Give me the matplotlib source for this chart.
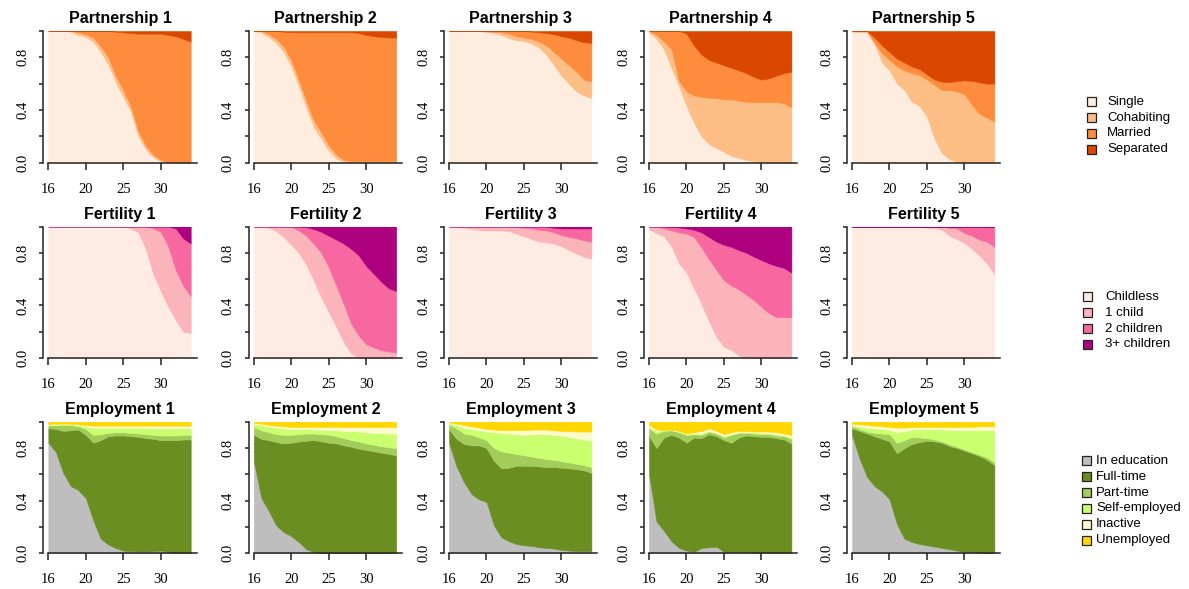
import numpy as np
import matplotlib
matplotlib.use("Agg")
import matplotlib.pyplot as plt
from matplotlib.patches import Rectangle

# sequence position (years since start), tick labels
pos = np.arange(20)
tick_pos = [0, 5, 10, 15]
tick_lab = ["16", "20", "25", "30"]

# cumulative upper bounds of each state (bottom state first)
# Partnership: Single, Cohabiting, Married (Separated fills up to 1)
p1_single = [1, 1, 1, .995, .97, .955, .92, .84, .75, .61, .50, .39, .20, .10, .04, .01, 0, 0, 0, 0]
p1_cohab = [1, 1, 1, 1, .99, .975, .95, .88, .80, .66, .55, .43, .24, .13, .06, .02, .005, 0, 0, 0]
p1_married = [1, 1, 1, 1, 1, 1, 1, 1, 1, .995, .99, .985, .98, .98, .98, .98, .97, .96, .94, .92]

p2_single = [1, .99, .955, .91, .84, .73, .58, .42, .27, .18, .09, .03, .005, 0, 0, 0, 0, 0, 0, 0]
p2_cohab = [1, 1, .975, .94, .88, .78, .63, .47, .32, .23, .13, .06, .02, .01, .01, .01, .01, .01, .01, .01]
p2_married = [1, 1, 1, 1, .995, .99, .99, .99, .99, .99, .99, .99, .99, .99, .985, .97, .96, .955, .95, .95]

p3_single = [1, 1, 1, 1, 1, .99, .985, .97, .945, .93, .925, .905, .875, .82, .74, .66, .60, .54, .51, .49]
p3_cohab = [1, 1, 1, 1, 1, 1, .995, .99, .98, .96, .95, .94, .92, .89, .84, .79, .74, .69, .63, .615]
p3_married = [1, 1, 1, 1, 1, 1, 1, 1, 1, 1, 1, .995, .99, .985, .975, .96, .95, .93, .915, .91]

p4_single = [.99, .94, .86, .72, .58, .43, .30, .20, .14, .11, .08, .05, .035, .02, .01, 0, 0, 0, 0, 0]
p4_cohab = [1, .97, .92, .86, .62, .54, .51, .50, .49, .49, .48, .48, .47, .46, .46, .46, .46, .46, .45, .42]
p4_married = [1, 1, 1, 1, 1, .98, .89, .82, .78, .76, .74, .72, .70, .68, .65, .63, .64, .66, .68, .69]

p5_single = [.995, .99, .99, .90, .76, .70, .60, .55, .46, .43, .35, .18, .07, .025, .005, 0, 0, 0, 0, 0]
p5_cohab = [1, 1, 1, .91, .83, .78, .73, .70, .68, .665, .63, .59, .55, .55, .54, .52, .44, .37, .34, .31]
p5_married = [1, 1, 1, .95, .89, .84, .79, .76, .73, .71, .67, .63, .615, .61, .62, .625, .62, .61, .60, .60]

# Fertility: Childless, 1 child, 2 children (3+ fills up to 1)
f1_none = [1, 1, 1, 1, 1, 1, 1, 1, 1, 1, 1, .985, .955, .83, .64, .51, .39, .29, .20, .19]
f1_one = [1, 1, 1, 1, 1, 1, 1, 1, 1, 1, 1, 1, 1, 1, .985, .96, .85, .67, .55, .47]
f1_two = [1, 1, 1, 1, 1, 1, 1, 1, 1, 1, 1, 1, 1, 1, 1, 1, 1, .985, .91, .87]

f2_none = [1, 1, .99, .965, .92, .86, .80, .71, .59, .46, .35, .24, .12, .035, 0, 0, 0, 0, 0, 0]
f2_one = [1, 1, 1, 1, 1, .995, .97, .93, .87, .80, .69, .55, .41, .26, .17, .105, .08, .06, .05, .04]
f2_two = [1, 1, 1, 1, 1, 1, 1, .995, .98, .96, .93, .90, .87, .83, .78, .70, .64, .58, .53, .51]

f3_none = [1, .995, .99, .98, .975, .97, .97, .97, .965, .945, .925, .905, .885, .88, .87, .85, .82, .795, .77, .755]
f3_one = [1, 1, 1, 1, 1, 1, 1, 1, 1, .995, .99, .985, .975, .97, .955, .935, .92, .91, .895, .885]
f3_two = [1, 1, 1, 1, 1, 1, 1, 1, 1, 1, 1, 1, 1, 1, .99, .985, .985, .985, .985, .985]

f4_none = [.98, .95, .925, .85, .72, .65, .53, .41, .28, .16, .085, .06, .02, 0, 0, 0, 0, 0, 0, 0]
f4_one = [1, 1, .985, .97, .955, .945, .92, .84, .75, .67, .59, .55, .52, .48, .44, .39, .34, .31, .31, .31]
f4_two = [1, 1, 1, .997, .993, .985, .975, .955, .92, .885, .86, .845, .82, .80, .77, .745, .72, .70, .685, .65]

f5_none = [1, 1, 1, 1, 1, 1, 1, 1, 1, .995, .99, .99, .975, .93, .905, .875, .83, .78, .72, .64]
f5_one = [1, 1, 1, 1, 1, 1, 1, 1, 1, 1, 1, 1, 1, .99, .985, .95, .93, .90, .885, .845]
f5_two = [1] * 20

# Employment: In education, Full-time, Part-time, Self-employed, Inactive (Unemployed fills up to 1)
e1_edu = [.84, .77, .61, .51, .48, .42, .25, .11, .065, .04, .02, .015, .013, .013, .015, .02, .01, 0, .005, 0]
e1_ft = [.95, .945, .93, .935, .94, .90, .84, .86, .89, .895, .895, .89, .885, .875, .87, .86, .86, .86, .865, .865]
e1_pt = [.975, .975, .975, .975, .965, .945, .90, .905, .915, .92, .92, .915, .91, .905, .90, .895, .895, .895, .90, .90]
e1_self = [.975, .978, .98, .98, .975, .965, .955, .955, .955, .955, .955, .955, .955, .955, .95, .95, .95, .95, .95, .95]
e1_inact = [.98, .985, .985, .985, .98, .975, .97, .97, .97, .97, .97, .97, .97, .97, .97, .97, .97, .97, .97, .97]

e2_edu = [.70, .42, .32, .21, .16, .13, .085, .03, .01, 0, 0, 0, 0, 0, 0, 0, 0, 0, 0, 0]
e2_ft = [.90, .87, .86, .845, .835, .84, .85, .855, .86, .85, .84, .835, .82, .81, .795, .785, .775, .765, .755, .745]
e2_pt = [.96, .935, .92, .905, .90, .90, .905, .91, .91, .905, .90, .89, .875, .86, .85, .835, .825, .815, .805, .80]
e2_self = [.985, .975, .965, .955, .95, .945, .945, .945, .94, .94, .935, .935, .93, .93, .925, .92, .915, .915, .91, .91]
e2_inact = [.99, .985, .975, .97, .965, .96, .96, .96, .96, .96, .96, .96, .96, .96, .96, .96, .96, .96, .96, .96]

e3_edu = [.84, .66, .54, .45, .41, .39, .21, .12, .09, .07, .06, .055, .045, .04, .035, .025, .02, .015, .015, .015]
e3_ft = [.94, .87, .83, .82, .82, .80, .70, .645, .65, .665, .665, .665, .66, .655, .655, .65, .645, .64, .63, .61]
e3_pt = [.98, .95, .91, .90, .88, .86, .80, .775, .765, .755, .745, .735, .725, .715, .71, .70, .69, .68, .67, .655]
e3_self = [.99, .975, .955, .945, .935, .925, .92, .915, .91, .905, .90, .905, .905, .905, .90, .895, .885, .875, .865, .86]
e3_inact = [.995, .985, .975, .965, .955, .945, .94, .935, .935, .935, .935, .94, .94, .94, .935, .93, .93, .925, .925, .925]

e4_edu = [.60, .24, .17, .09, .04, .02, .01, .04, .045, .05, .01, .01, .01, .008, .005, .005, .005, .005, .005, .005]
e4_ft = [.89, .80, .88, .90, .88, .84, .88, .875, .905, .89, .86, .84, .88, .895, .89, .885, .885, .875, .865, .835]
e4_pt = [.95, .91, .93, .935, .92, .90, .905, .90, .925, .91, .88, .90, .915, .915, .91, .905, .905, .895, .89, .87]
e4_self = [.96, .93, .935, .935, .925, .905, .91, .91, .93, .915, .89, .905, .92, .92, .92, .915, .915, .905, .90, .88]
e4_inact = [.975, .94, .935, .94, .93, .91, .92, .93, .95, .93, .905, .92, .93, .93, .925, .925, .925, .92, .91, .90]

e5_edu = [.90, .72, .58, .51, .47, .41, .22, .11, .085, .07, .06, .05, .04, .03, .02, .01, .01, .005, 0, 0]
e5_ft = [.95, .93, .91, .89, .87, .85, .76, .80, .83, .845, .855, .85, .84, .815, .80, .78, .76, .74, .71, .67]
e5_pt = [.965, .945, .925, .915, .91, .905, .84, .86, .885, .88, .875, .865, .85, .83, .81, .79, .77, .75, .73, .69]
e5_self = [.975, .965, .955, .95, .945, .94, .92, .93, .94, .945, .945, .945, .94, .94, .935, .935, .935, .935, .935, .935]
e5_inact = [.985, .98, .975, .97, .965, .96, .955, .955, .96, .96, .96, .96, .96, .96, .96, .96, .96, .965, .965, .965]

part_labels = ["Single", "Cohabiting", "Married", "Separated"]
part_colors = ["#FEEDDE", "#FDBE85", "#FD8D3C", "#D94701"]
fert_labels = ["Childless", "1 child", "2 children", "3+ children"]
fert_colors = ["#FEEBE2", "#FBB4B9", "#F768A1", "#AE017E"]
emp_labels = ["In education", "Full-time", "Part-time", "Self-employed", "Inactive", "Unemployed"]
emp_colors = ["#BEBEBE", "#6B8E23", "#A2CD5A", "#CAFF70", "#FFFACD", "#FFD700"]

rows = [
    ("Partnership", part_colors, [
        [p1_single, p1_cohab, p1_married], [p2_single, p2_cohab, p2_married],
        [p3_single, p3_cohab, p3_married], [p4_single, p4_cohab, p4_married],
        [p5_single, p5_cohab, p5_married]]),
    ("Fertility", fert_colors, [
        [f1_none, f1_one, f1_two], [f2_none, f2_one, f2_two], [f3_none, f3_one, f3_two],
        [f4_none, f4_one, f4_two], [f5_none, f5_one, f5_two]]),
    ("Employment", emp_colors, [
        [e1_edu, e1_ft, e1_pt, e1_self, e1_inact], [e2_edu, e2_ft, e2_pt, e2_self, e2_inact],
        [e3_edu, e3_ft, e3_pt, e3_self, e3_inact], [e4_edu, e4_ft, e4_pt, e4_self, e4_inact],
        [e5_edu, e5_ft, e5_pt, e5_self, e5_inact]]),
]

W, H = 1189, 589
fig = plt.figure(figsize=(W / 100, H / 100), dpi=100)

col_left = [43.3, 248.8, 444, 644, 847]
row_top = [31, 226.5, 421.7]
aw, ah = 153.4, 131.5
axcol = "#222222"

for r, (name, colors, panels) in enumerate(rows):
    for c, tops in enumerate(panels):
        ax = fig.add_axes([col_left[c] / W, 1 - (row_top[r] + ah) / H, aw / W, ah / H])
        bounds = [np.zeros(len(pos))] + [np.array(t, float) for t in tops] + [np.ones(len(pos))]
        for k in range(len(bounds) - 1):
            ax.fill_between(pos, bounds[k], bounds[k + 1], color=colors[k], lw=0.4, ec=colors[k])
        ax.set_xlim(-0.67, 19.8)
        ax.set_ylim(0, 1)
        for s in ["top", "right"]:
            ax.spines[s].set_visible(False)
        ax.spines["left"].set_bounds(0, 1)
        ax.spines["bottom"].set_bounds(0, 19.8)
        for s in ["left", "bottom"]:
            ax.spines[s].set_linewidth(1.1)
            ax.spines[s].set_color(axcol)
        ax.set_xticks(tick_pos)
        ax.set_xticklabels(tick_lab, fontfamily="Liberation Serif", fontsize=10.5)
        ax.set_yticks([0, .2, .4, .6, .8, 1.0])
        ax.set_yticklabels(["0.0", "", "0.4", "", "0.8", ""], fontfamily="Liberation Serif",
                           fontsize=10.5, rotation=90, va="center")
        ax.tick_params(axis="x", length=5, width=1.1, color=axcol, pad=9.5)
        ax.tick_params(axis="y", length=3, width=1.1, color=axcol, pad=7)
        ax.set_title(f"{name} {c + 1}", fontfamily="Liberation Sans", fontweight="bold",
                     fontsize=11.5, pad=5.5)

# legends drawn in pixel coordinates
lax = fig.add_axes([0, 0, 1, 1])
lax.set_xlim(0, W)
lax.set_ylim(H, 0)
lax.axis("off")
legends = [
    (part_labels, part_colors, 1087, 1107, 101.7),
    (fert_labels, fert_colors, 1082.5, 1105, 296.7),
    (emp_labels, emp_colors, 1081.5, 1096, 460.7),
]
for labels, colors, bx, tx, y0 in legends:
    for i, (lab, col) in enumerate(zip(labels, colors)):
        y = y0 + i * 15.9
        lax.add_patch(Rectangle((bx, y - 4.5), 9, 9, facecolor=col, edgecolor="#222222", lw=0.9))
        lax.text(tx, y, lab, fontfamily="Liberation Sans", fontsize=9.5, va="center", ha="left")

fig.savefig("out.png", dpi=100)
